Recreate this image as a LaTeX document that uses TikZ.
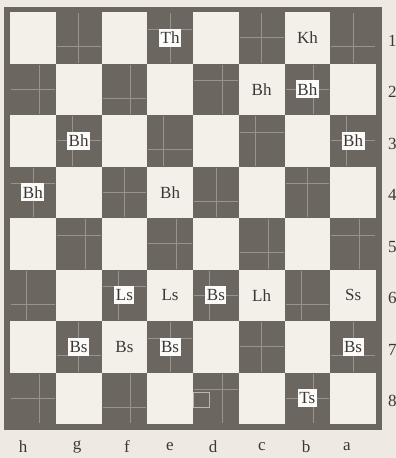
\documentclass[tikz,border=0pt]{standalone}
\usepackage{fontspec}
\setmainfont{Liberation Serif}
\definecolor{paper}{HTML}{EEEAE1}
\definecolor{darksq}{HTML}{6B6760}
\definecolor{grain}{HTML}{99948B}
\definecolor{ink}{HTML}{3A3835}
\tikzset{
  piece/.style={font=\fontsize{17}{17}\selectfont, text=ink, inner sep=1pt},
  boxed/.style={piece, fill=white!80!paper, inner xsep=1.5pt, inner ysep=0pt, minimum height=18pt},
  coordlabel/.style={font=\fontsize{17}{17}\selectfont, text=ink, inner sep=0pt},
  grainline/.style={grain, line width=0.7pt},
}
\begin{document}
\begin{tikzpicture}[x=1pt,y=-1pt]
\useasboundingbox[fill=paper] (0,0) rectangle (396,458);
% frame
\fill[darksq] (4,7) rectangle (382,430);
\fill[paper!70!white] (10,12) rectangle (376,424);
% squares
\foreach \i in {0,...,7} {
  \foreach \j in {0,...,7} {
    \pgfmathtruncatemacro\odd{mod(\i+\j,2)}
    \pgfmathsetmacro\xa{10+\i*45.75}
    \pgfmathsetmacro\ya{12+\j*51.5}
    \pgfmathsetmacro\vf{mod(\i*3+\j,3)==0 ? 0.5 : (mod(\i*3+\j,3)==1 ? 0.64 : 0.36)}
    \pgfmathsetmacro\hf{mod(\i+\j*2,3)==0 ? 0.33 : (mod(\i+\j*2,3)==1 ? 0.67 : 0.5)}
    \ifnum\odd=1
      \fill[darksq] (\xa,\ya) rectangle ++(45.75,51.5);
      \draw[grainline] ({\xa+\vf*45.75},\ya+1) -- ++(0,49.5);
      \draw[grainline] (\xa+1,{\ya+\hf*51.5}) -- ++(43.75,0);
    \fi
  }
}
% small outline on d8
\draw[grain!70!white, line width=0.6pt] (193,392) rectangle (209,407);
% pieces
\node[boxed] (e1) at (170.1,37.75) {Th};
\node[piece] (b1) at (307.4,37.75) {Kh};
\node[piece] (c2) at (261.6,89.25) {Bh};
\node[boxed] (b2) at (307.4,89.25) {Bh};
\node[boxed] (g3) at (78.6,140.75) {Bh};
\node[boxed] (a3) at (353.1,140.75) {Bh};
\node[boxed] (h4) at (32.9,192.25) {Bh};
\node[piece] (e4) at (170.1,192.25) {Bh};
\node[boxed] (f6) at (124.4,295.25) {Ls};
\node[piece] (e6) at (170.1,295.25) {Ls};
\node[boxed] (d6) at (215.9,295.25) {Bs};
\node[piece] (c6) at (261.6,295.25) {Lh};
\node[piece] (a6) at (353.1,295.25) {Ss};
\node[boxed] (g7) at (78.6,346.75) {Bs};
\node[piece] (f7) at (124.4,346.75) {Bs};
\node[boxed] (e7) at (170.1,346.75) {Bs};
\node[boxed] (a7) at (353.1,346.75) {Bs};
\node[boxed] (b8) at (307.4,398.25) {Ts};
% rank numbers
\foreach \r [count=\k from 0] in {1,...,8} {
  \node[coordlabel, anchor=west] (rank\r) at (388,{37.75+\k*51.5+3}) {\r};
}
% file letters
\foreach \f/\x in {h/23,g/77,f/127,e/170,d/213,c/262,b/306,a/347} {
  \node[coordlabel] (file\f) at (\x,447) {\f};
}
\end{tikzpicture}
\end{document}
